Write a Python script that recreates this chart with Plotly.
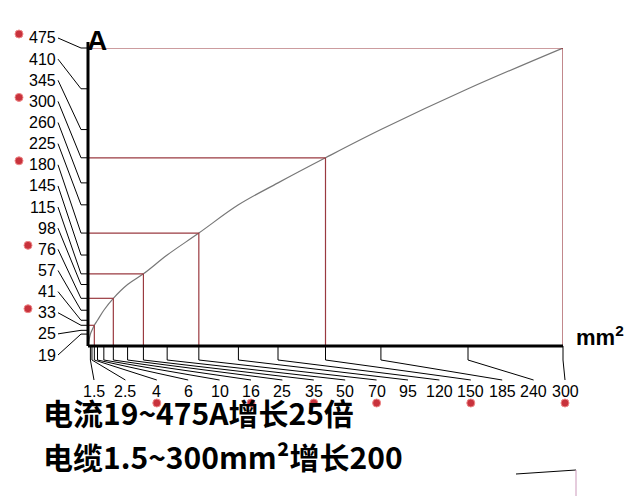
import plotly.graph_objects as go

mm2 = [1.5, 2.5, 4, 6, 10, 16, 25, 35, 50, 70, 95, 120, 150, 185, 240, 300]
amps = [19, 25, 33, 41, 57, 76, 98, 115, 145, 180, 225, 260, 300, 345, 410, 475]
marked_x = [4, 16, 35, 70, 150, 300]
marked_y = [475, 300, 180, 76, 33]

W, H = 632, 496
L, R, T, B = 80, 555, 40, 338
XMAX, YMAX = 300, 475

def px(xp):  # pixel x -> paper
    return (xp - L) / (R - L)
def py(yp):  # pixel y -> paper
    return (B - yp) / (B - T)

fig = go.Figure()
fig.add_trace(go.Scatter(x=[0] + mm2, y=[0] + amps, mode="lines",
                         line=dict(color="#777", width=1.2), line_shape="spline",
                         hoverinfo="skip"))

shapes = []
red = "#9a3a40"
for xv in marked_x:
    yv = amps[mm2.index(xv)]
    shapes.append(dict(type="line", xref="x", yref="y", x0=0, x1=xv, y0=yv, y1=yv, line=dict(color=red, width=1.2)))
    shapes.append(dict(type="line", xref="x", yref="y", x0=xv, x1=xv, y0=0, y1=yv, line=dict(color=red, width=1.2)))

lab_font = dict(size=16, color="black", family="Liberation Sans Narrow, Liberation Sans")
ann = []
n = len(amps)
for i, a in enumerate(reversed(amps)):
    ly = 30 + i * (347 - 30) / (n - 1)
    ty = a / YMAX
    shapes.append(dict(type="line", xref="paper", yref="paper", x0=px(50), y0=py(ly), x1=px(73), y1=ty, line=dict(color="black", width=1)))
    shapes.append(dict(type="line", xref="paper", yref="paper", x0=px(73), y0=ty, x1=0, y1=ty, line=dict(color="black", width=1)))
    ann.append(dict(xref="paper", yref="paper", x=px(50), y=py(ly), text=str(a), showarrow=False,
                    xanchor="right", yanchor="middle", font=lab_font))
    if a in marked_y:
        cx = 11 if a >= 100 else 20
        shapes.append(dict(type="circle", xref="paper", yref="paper", x0=px(cx - 4), x1=px(cx + 4),
                           y0=py(ly - 4 + 4), y1=py(ly - 4 - 4), fillcolor="#c8323c", line=dict(color="#e88", width=1)))
for i, m in enumerate(mm2):
    lx = 86 + i * (557 - 86) / (n - 1)
    tx = m / XMAX
    shapes.append(dict(type="line", xref="paper", yref="paper", x0=tx, y0=0, x1=tx, y1=py(352), line=dict(color="black", width=1)))
    shapes.append(dict(type="line", xref="paper", yref="paper", x0=tx, y0=py(352), x1=px(lx), y1=py(372), line=dict(color="black", width=1)))
    ann.append(dict(xref="paper", yref="paper", x=px(lx), y=py(383), text=str(m), showarrow=False,
                    xanchor="center", yanchor="middle", font=lab_font))
    if m in marked_x:
        shapes.append(dict(type="circle", xref="paper", yref="paper", x0=px(lx - 4), x1=px(lx + 4),
                           y0=py(399), y1=py(391), fillcolor="#c8323c", line=dict(color="#e88", width=1)))

shapes.append(dict(type="line", xref="paper", yref="paper", x0=0, x1=0, y0=0, y1=1.02, line=dict(color="black", width=3)))
shapes.append(dict(type="line", xref="paper", yref="paper", x0=0, x1=1, y0=0, y1=0, line=dict(color="black", width=3)))
shapes.append(dict(type="line", xref="paper", yref="paper", x0=px(508), x1=px(568), y0=py(466), y1=py(462), line=dict(color="black", width=1)))
shapes.append(dict(type="line", xref="paper", yref="paper", x0=px(568), x1=px(568), y0=py(462), y1=py(496), line=dict(color="#c9b", width=1)))

ann.append(dict(xref="paper", yref="paper", x=px(77), y=py(15), text="<b>A</b>", showarrow=False,
                font=dict(size=28, color="black", family="Liberation Sans Narrow, Liberation Sans")))
ann.append(dict(xref="paper", yref="paper", x=px(566), y=py(344), text="<b>mm<sup>2</sup></b>", showarrow=False,
                xanchor="left", font=dict(size=22, color="black", family="Liberation Sans Narrow, Liberation Sans")))
ann.append(dict(xref="paper", yref="paper", x=px(33), y=py(428), text="<b>电流19~475A增长25倍</b>", showarrow=False,
                xanchor="left", font=dict(size=30, color="black", family="Noto Sans CJK SC")))
ann.append(dict(xref="paper", yref="paper", x=px(33), y=py(472), text="<b>电缆1.5~300mm²增长200</b>", showarrow=False,
                xanchor="left", font=dict(size=30, color="black", family="Noto Sans CJK SC")))

fig.update_layout(width=W, height=H, margin=dict(l=L, r=W - R, t=T, b=H - B, autoexpand=False),
                  paper_bgcolor="white", plot_bgcolor="white", showlegend=False,
                  xaxis=dict(range=[0, XMAX], visible=False, fixedrange=True),
                  yaxis=dict(range=[0, YMAX], visible=False, fixedrange=True),
                  shapes=shapes, annotations=ann)
fig.write_html("out.html")
